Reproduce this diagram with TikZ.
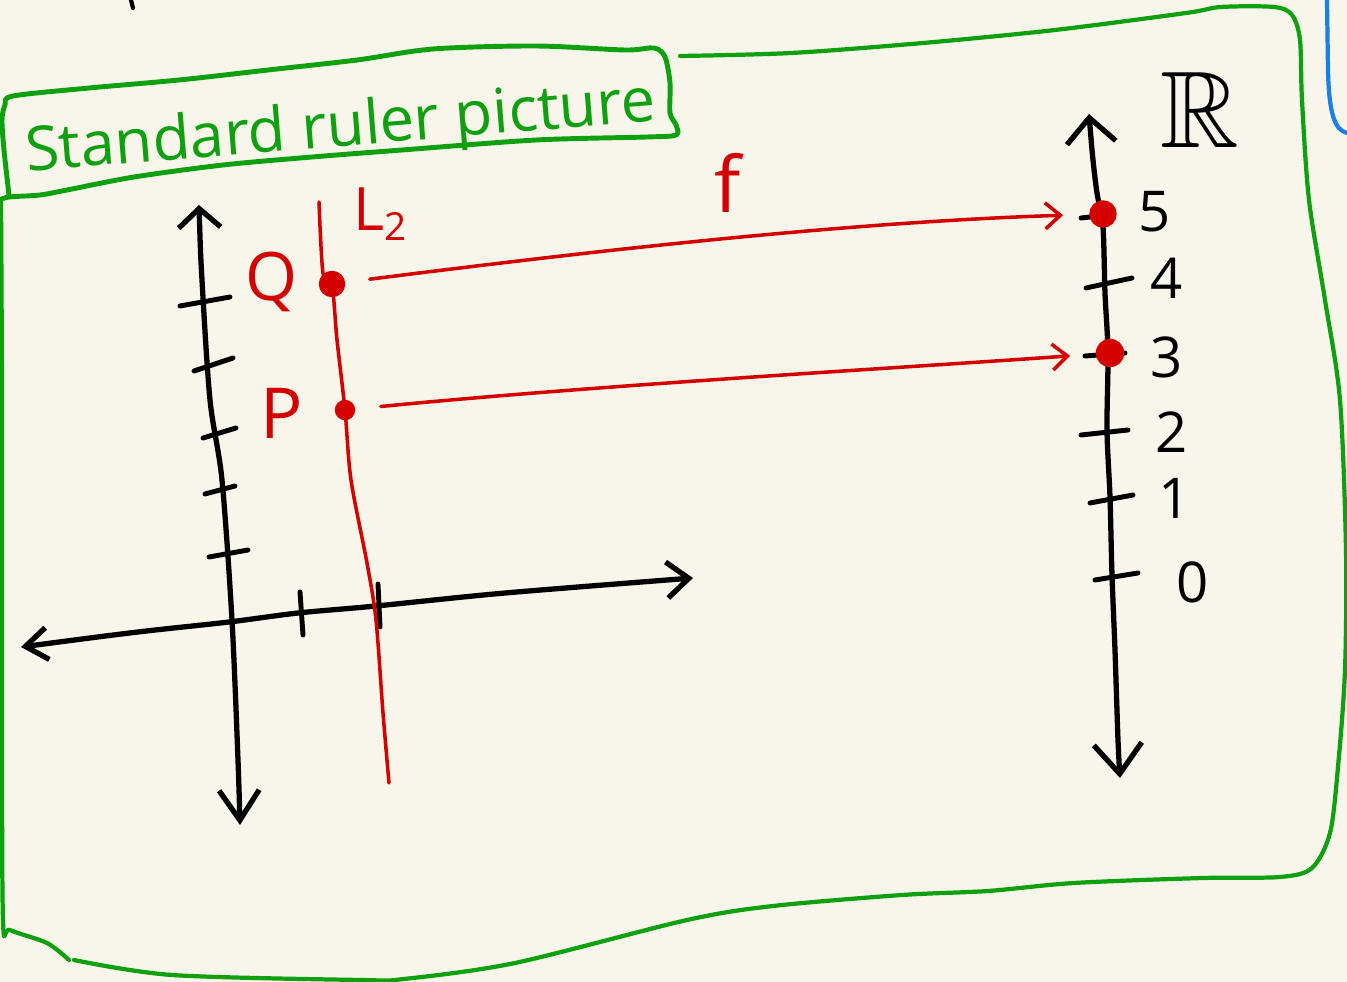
\documentclass[tikz,border=0pt]{standalone}
\usepackage{fontspec}
\setmainfont{Open Sans}
\usepackage{amssymb}
\usetikzlibrary{arrows.meta, positioning, calc}
\definecolor{paper}{HTML}{F8F6EA}
\definecolor{penred}{HTML}{D40000}
\definecolor{pengreen}{HTML}{0EA00E}
\definecolor{penblue}{HTML}{1A80E8}
\tikzstyle{arrow}=[-{Straight Barb[length=1.5mm,width=2.6mm]}, line width=1pt, color=penred]

\begin{document}
\begin{tikzpicture}[x=0.01cm, y=-0.01cm, line cap=round, line join=round,
  axis/.style={line width=1.5pt, black},
  tick/.style={line width=1.4pt, black},
  redline/.style={line width=1pt, penred},
  frame/.style={line width=1.2pt, pengreen},
  reddot/.style={circle, fill=penred, draw=penred, inner sep=0pt, minimum size=#1},
  reddot/.default=2.5mm,
  lbl/.style={inner sep=0pt, text=penred},
  num/.style={inner sep=0pt, font=\fontsize{16}{18}\selectfont}
]
\fill[paper] (0,0) rectangle (1347,982);
\useasboundingbox (0,0) rectangle (1347,982);

% stray pen marks at the edges
\draw[line width=1.2pt] (131,0) -- (133,8);
\draw[penblue, line width=1.2pt] (1327,0) -- (1328,70) .. controls (1329,115) and (1335,130) .. (1347,133);

% title box
\draw[frame, line width=1.4pt] plot[smooth] coordinates {(9,195) (4,150) (2,120) (5,105) (13,96)
  (89,88) (179,80) (268,70) (357,60) (433,49) (536,46) (625,50) (654,48) (665,57) (670,83)
  (670,113) (676,125) (676,135) (647,137) (536,140) (402,150) (312,157) (223,165) (134,177)
  (67,190) (40,195) (9,197) (0,200)};
\node[text=pengreen, anchor=base, rotate=4.6, inner sep=0pt,
      font=\fontsize{17.5}{20}\selectfont] (title) at (342,146)
  {\raisebox{0pt}[\height][0pt]{Standard ruler picture}};

% outer frame
\draw[frame] plot[smooth] coordinates {(1,200) (2,400) (2,700) (3,920) (10,930) (47,943) (69,960)};
\draw[frame] plot[smooth] coordinates {(74,960) (172,975) (361,980) (404,979) (515,963) (687,920)
  (773,906) (902,895) (988,891) (1074,883) (1203,878) (1280,877) (1312,868) (1330,833)
  (1338,767) (1345,670) (1346,550) (1340,400) (1325,300) (1309,200) (1302,100) (1300,40)
  (1292,15) (1274,7) (1221,7) (1186,13) (1055,30) (923,43) (791,53) (680,56)};

% plane axes
\draw[axis, {Straight Barb[length=1.9mm,width=4.2mm]}-{Straight Barb[length=3mm,width=4mm]}]
  plot[smooth] coordinates {(199,205) (202,280) (210,400) (222,480) (232,620) (238,760) (240,825)};
\draw[axis, {Straight Barb[length=2.2mm,width=3.2mm]}-{Straight Barb[length=2.2mm,width=3.6mm]}]
  plot[smooth] coordinates {(21,647) (138,632) (229,622) (298,613) (376,606) (505,593) (693,578)};
\foreach \a/\b/\c/\d in {180/306/230/297, 194/371/233/358, 203/438/236/428,
                         205/494/235/486, 209/557/248/550, 300/592/303/635, 378/584/380/627}
  \draw[tick] (\a,\b) -- (\c,\d);

% the line L2 with P and Q
\draw[redline] plot[smooth] coordinates {(319,202) (323,273) (332,285) (337,340) (345,410)
  (351,480) (367,563) (376,620) (383,713) (389,783)};
\node[reddot] (qdot) at (332,284) {};
\node[reddot=1.9mm] (pdot) at (345,410) {};
\node[lbl, font=\fontsize{19}{22}\selectfont] (qlbl) at (272,282) {Q};
\node[lbl, font=\fontsize{20}{22}\selectfont] (plbl) at (282,413) {P};
\node[lbl, font=\fontsize{17}{19}\selectfont] (ltwo) at (380,214)
  {L\raisebox{-3pt}{\fontsize{11}{12}\selectfont 2}};

% real number line
\draw[axis, {Straight Barb[length=2.5mm,width=4.9mm]}-{Straight Barb[length=3mm,width=4.8mm]}]
  plot[smooth] coordinates {(1089,114) (1093,160) (1097,193) (1103,227) (1105,293) (1108,353)
  (1107,430) (1110,497) (1112,575) (1115,650) (1118,740) (1120,778)};
\foreach \a/\b/\c/\d in {1081/218/1110/215, 1086/288/1132/278, 1085/356/1125/353,
                         1081/435/1128/430, 1090/503/1133/495, 1095/580/1138/573}
  \draw[tick] (\a,\b) -- (\c,\d);
\foreach \n/\x/\y in {5/1155/212, 4/1167/278, 3/1167/357, 2/1172/432, 1/1175/498, 0/1193/582}
  \node[num] (n\n) at (\x,\y) {\n};
\node[inner sep=0pt, font=\fontsize{31}{34}\selectfont] (rlbl) at (1200,110) {$\mathbb{R}$};
\node[reddot=2.6mm] (rfive) at (1103,214) {};
\node[reddot=2.7mm] (rthree) at (1110,353) {};

% the map f
\draw[arrow, shorten <=0.38cm, shorten >=0.4cm] (qdot.center) .. controls (600,250) and (850,222) .. (rfive.center);
\draw[arrow, shorten <=0.36cm, shorten >=0.4cm] (pdot.center) .. controls (600,385) and (900,368) .. (rthree.center);
\node[lbl, font=\fontsize{22}{24}\selectfont] (flbl) at (728,183) {f};
\end{tikzpicture}
\end{document}
